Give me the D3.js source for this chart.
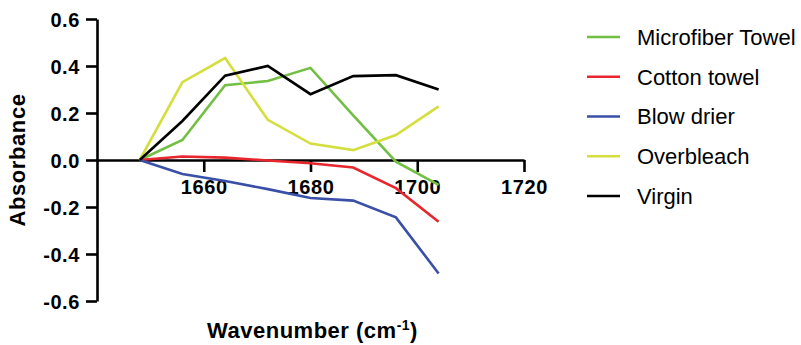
<!DOCTYPE html>
<html>
<head>
<meta charset="utf-8">
<script src="https://cdn.jsdelivr.net/npm/d3@7"></script>
<style>
  html, body { margin: 0; padding: 0; background: #fff; }
  svg { display: block; font-family: "Liberation Sans", Arial, Helvetica, sans-serif; }
</style>
</head>
<body>
<svg id="chart" width="801" height="345"></svg>
<script>
const wavenumbers = [1648, 1656, 1664, 1672, 1680, 1688, 1696, 1704];
const microfiberTowel = [0, 0.085, 0.318, 0.336, 0.392, 0.19, -0.007, -0.106];
const cottonTowel = [0, 0.015, 0.01, -0.002, -0.014, -0.032, -0.12, -0.263];
const blowDrier = [0, -0.06, -0.089, -0.124, -0.162, -0.173, -0.244, -0.483];
const overbleach = [0, 0.331, 0.434, 0.171, 0.07, 0.042, 0.106, 0.228];
const virgin = [0, 0.166, 0.359, 0.40, 0.28, 0.357, 0.361, 0.30];
const seriesNames = ["Microfiber Towel", "Cotton towel", "Blow drier", "Overbleach", "Virgin"];
const seriesColors = ["#72bf44", "#e8262e", "#3a50a8", "#d4df3e", "#000000"];
const xTickValues = [1660, 1680, 1700, 1720];
const yTickValues = [-0.6, -0.4, -0.2, 0.0, 0.2, 0.4, 0.6];
const yTickLabels = ["-0.6", "-0.4", "-0.2", "0.0", "0.2", "0.4", "0.6"];
const xTitle = "Wavenumber (cm";
const yTitle = "Absorbance";

const seriesValues = [microfiberTowel, cottonTowel, blowDrier, overbleach, virgin];

const svg = d3.select("#chart");
const x = d3.scaleLinear().domain([1640, 1720]).range([97, 524]);
const y = d3.scaleLinear().domain([-0.6, 0.6]).range([301, 19]);

// Y axis
const yAxis = svg.append("g")
  .attr("transform", `translate(${x(1640)},0)`)
  .call(d3.axisLeft(y).tickValues(yTickValues)
    .tickFormat((d, i) => yTickLabels[i])
    .tickSize(11).tickPadding(6).tickSizeOuter(0));

// X axis at y=0
const xAxis = svg.append("g")
  .attr("transform", `translate(0,${y(0)})`)
  .call(d3.axisBottom(x).tickValues(xTickValues)
    .tickFormat(d3.format("d"))
    .tickSize(12).tickPadding(8).tickSizeOuter(0));

[yAxis, xAxis].forEach(g => {
  g.selectAll("path.domain").attr("stroke", "#000").attr("stroke-width", 2.6);
  g.selectAll(".tick line").attr("stroke", "#000").attr("stroke-width", 2.6);
  g.selectAll(".tick text")
    .attr("fill", "#000")
    .style("font-family", "'Liberation Sans', Arial, Helvetica, sans-serif")
    .style("font-size", "20px")
    .style("font-weight", "bold")
    .style("letter-spacing", "0.6px");
});
yAxis.selectAll(".tick text").attr("dy", "0.36em");

// Lines
const line = d3.line()
  .x((d, i) => x(wavenumbers[i]))
  .y(d => y(d));

seriesValues.forEach((vals, k) => {
  svg.append("path")
    .datum(vals)
    .attr("d", line)
    .attr("fill", "none")
    .attr("stroke", seriesColors[k])
    .attr("stroke-width", 2.6)
    .attr("stroke-linejoin", "miter");
});

// Axis titles
const xt = svg.append("text")
  .attr("x", (x(1640) + x(1720)) / 2 + 2)
  .attr("y", 338)
  .attr("text-anchor", "middle")
  .style("font-size", "22px")
  .style("font-weight", "bold")
  .style("letter-spacing", "0.5px")
  .attr("fill", "#000");
xt.append("tspan").text(xTitle);
xt.append("tspan").attr("dy", "-8").style("font-size", "14px").text("-1");
xt.append("tspan").attr("dy", "8").text(")");

svg.append("text")
  .attr("transform", `translate(25,${y(0)}) rotate(-90)`)
  .attr("text-anchor", "middle")
  .style("font-size", "22px")
  .style("font-weight", "bold")
  .style("letter-spacing", "0.6px")
  .attr("fill", "#000")
  .text(yTitle);

// Legend
const legend = svg.append("g");
seriesNames.forEach((name, k) => {
  const cy = 37 + k * 39.75;
  legend.append("line")
    .attr("x1", 587).attr("x2", 620)
    .attr("y1", cy).attr("y2", cy)
    .attr("stroke", seriesColors[k])
    .attr("stroke-width", 2.6);
  legend.append("text")
    .attr("x", 637).attr("y", cy)
    .attr("dy", "0.36em")
    .style("font-size", "22px")
    .attr("fill", "#000")
    .text(name);
});
</script>
</body>
</html>
